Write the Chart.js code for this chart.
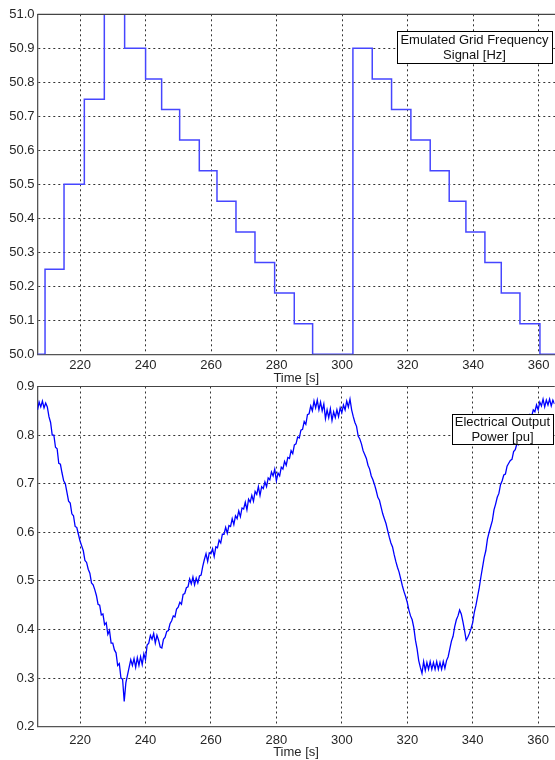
<!DOCTYPE html>
<html>
<head>
<meta charset="utf-8">
<script src="https://cdn.jsdelivr.net/npm/chart.js@4.4.1/dist/chart.umd.min.js"></script>
<style>
  html, body { margin: 0; padding: 0; background: #fff; overflow: hidden; }
  #wrap { position: relative; width: 555px; height: 760px; }
  #freqChart { position: absolute; left: 0; top: 0; }
  #powerChart { position: absolute; left: 0; top: 370px; }
</style>
</head>
<body>
<div id="wrap">
  <canvas id="freqChart" width="555" height="386"></canvas>
  <canvas id="powerChart" width="555" height="390"></canvas>
</div>
<script>
// Tick labels
const timeTicks = [220, 240, 260, 280, 300, 320, 340, 360];
const freqTicks = [50.0, 50.1, 50.2, 50.3, 50.4, 50.5, 50.6, 50.7, 50.8, 50.9, 51.0];
const powerTicks = [0.2, 0.3, 0.4, 0.5, 0.6, 0.7, 0.8, 0.9];

// Emulated grid frequency (step signal): time of each step and new level
const stepTimes = [207, 209.3, 215.1, 221.3, 227.4, 233.6, 240.0, 244.9, 250.4, 256.4, 261.8, 267.6, 273.4, 279.4, 285.4, 291.0,
                   303.3, 309.2, 315.1, 321.0, 326.9, 332.7, 337.8, 343.6, 348.6, 354.3, 360.4, 365];
const stepLevels = [50.0, 50.25, 50.5, 50.75, 51.0, 50.9, 50.81, 50.72, 50.63, 50.54, 50.45, 50.36, 50.27, 50.18, 50.09, 50.0,
                    50.9, 50.81, 50.72, 50.63, 50.54, 50.45, 50.36, 50.27, 50.18, 50.09, 50.0, 50.0];

// Electrical output power [pu], sampled every 0.5 s from 207 s
const powerStart = 207;
const powerStep = 0.5;
const powerValues = [
    0.852, 0.868, 0.858, 0.870, 0.856, 0.866, 0.858, 0.838, 0.826, 0.800, 0.800, 0.775, 0.772, 0.742, 0.740, 0.722, 0.706, 0.700, 0.682, 0.664,
    0.660, 0.638, 0.634, 0.612, 0.610, 0.596, 0.582, 0.572, 0.562, 0.542, 0.538, 0.524, 0.516, 0.496, 0.492, 0.482, 0.470, 0.452, 0.450, 0.430,
    0.432, 0.410, 0.414, 0.390, 0.398, 0.372, 0.372, 0.358, 0.352, 0.326, 0.330, 0.300, 0.298, 0.252, 0.290, 0.306, 0.322, 0.338, 0.326, 0.340,
    0.322, 0.342, 0.326, 0.344, 0.328, 0.350, 0.338, 0.368,
    0.372, 0.388, 0.380, 0.392, 0.372, 0.388, 0.378, 0.364, 0.362, 0.380, 0.384, 0.396, 0.398, 0.412, 0.418, 0.428, 0.426, 0.442, 0.446, 0.456,
    0.452, 0.472, 0.474, 0.486, 0.488, 0.504, 0.494, 0.508, 0.492, 0.506, 0.496, 0.510, 0.512, 0.530, 0.544, 0.556, 0.540, 0.558, 0.556, 0.566,
    0.550, 0.570, 0.568, 0.584, 0.578, 0.596, 0.596, 0.610, 0.598, 0.614, 0.612, 0.628, 0.616, 0.634, 0.628, 0.644, 0.632, 0.650, 0.648, 0.662,
    0.646, 0.668, 0.662, 0.676, 0.664, 0.684, 0.678, 0.694, 0.676, 0.694, 0.690, 0.704, 0.694, 0.712, 0.708, 0.724, 0.716, 0.730, 0.706, 0.722,
    0.716, 0.734, 0.730, 0.746, 0.738, 0.754, 0.752, 0.768, 0.762, 0.780, 0.782, 0.796, 0.794, 0.810, 0.812, 0.828, 0.822, 0.842, 0.844, 0.860,
    0.850, 0.870,
    0.856, 0.872, 0.852, 0.868, 0.850, 0.864, 0.834, 0.852, 0.836, 0.854, 0.830, 0.848, 0.836, 0.852, 0.838, 0.856, 0.846, 0.862, 0.852, 0.870,
    0.858, 0.874, 0.852, 0.838, 0.826, 0.818, 0.798, 0.792, 0.782, 0.768, 0.760, 0.752, 0.738, 0.730, 0.716, 0.708, 0.698, 0.686, 0.672, 0.666,
    0.652, 0.638, 0.628, 0.618, 0.604, 0.590, 0.578, 0.570, 0.554, 0.540, 0.528, 0.518, 0.504, 0.490, 0.478, 0.468, 0.456, 0.440, 0.428, 0.420,
    0.404, 0.378, 0.360, 0.336, 0.322, 0.310, 0.334, 0.316, 0.332, 0.318, 0.334, 0.318, 0.332, 0.318, 0.334, 0.318, 0.332, 0.318, 0.334, 0.320,
    0.336, 0.344, 0.360, 0.376, 0.386, 0.406, 0.420, 0.428, 0.440, 0.432, 0.416, 0.398, 0.378, 0.384, 0.392, 0.402, 0.414, 0.436, 0.450, 0.468,
    0.486, 0.508, 0.528, 0.548, 0.562, 0.586, 0.600, 0.612, 0.624, 0.646, 0.658, 0.672, 0.680, 0.698, 0.706, 0.718, 0.720, 0.736, 0.742, 0.748,
    0.750, 0.766, 0.770, 0.782, 0.780, 0.798, 0.800, 0.812, 0.810, 0.828, 0.830, 0.842, 0.838, 0.852, 0.848, 0.862, 0.852, 0.868, 0.860, 0.874,
    0.858, 0.872, 0.862, 0.874, 0.860, 0.872, 0.864
];

const FONT = 'Liberation Sans, Arial, sans-serif';
const TEXT = '#262626';

// frame line on top of the plot + text box (MATLAB style legend)
const framePlugin = {
    id: 'frame',
    afterDraw(chart, args, opts) {
        const { ctx, chartArea } = chart;
        ctx.save();
        ctx.strokeStyle = '#444';
        ctx.lineWidth = 1.2;
        ctx.beginPath();
        ctx.moveTo(chartArea.left, chartArea.top);
        ctx.lineTo(chartArea.right, chartArea.top);
        ctx.stroke();

        const b = opts.box;
        ctx.fillStyle = '#fff';
        ctx.fillRect(b.x, b.y, b.w, b.h);
        ctx.strokeStyle = '#000';
        ctx.lineWidth = 1;
        ctx.strokeRect(b.x + 0.5, b.y + 0.5, b.w, b.h);
        ctx.fillStyle = '#111';
        ctx.font = '13px ' + FONT;
        ctx.textAlign = 'center';
        ctx.textBaseline = 'middle';
        b.lines.forEach((t, i) => {
            ctx.fillText(t, b.x + b.w / 2, b.y + b.first + i * b.gap);
        });
        ctx.restore();
    }
};

function makeOptions(yMin, yMax, yTicks, xHeight, padTop, tickPad, box) {
    return {
        responsive: false,
        animation: false,
        layout: { padding: { top: padTop, right: 0, left: 0, bottom: 0 } },
        plugins: {
            legend: { display: false },
            tooltip: { enabled: false },
            frame: { box: box }
        },
        scales: {
            x: {
                type: 'linear',
                min: 207,
                max: 365,
                afterFit: s => { s.height = xHeight; },
                afterBuildTicks: s => { s.ticks = timeTicks.map(v => ({ value: v })); },
                grid: { color: '#333', lineWidth: 1, drawTicks: false },
                border: { display: true, color: '#555', width: 1.3, dash: [2, 3] },
                ticks: { color: TEXT, font: { family: FONT, size: 13 }, padding: tickPad, maxRotation: 0 },
                title: { display: true, text: 'Time [s]', color: TEXT, font: { family: FONT, size: 13 }, padding: { top: 0, bottom: 0 } }
            },
            y: {
                min: yMin,
                max: yMax,
                afterFit: s => { s.width = 37.5; },
                afterBuildTicks: s => { s.ticks = yTicks.map(v => ({ value: v })); },
                grid: { color: '#333', lineWidth: 1, drawTicks: false },
                border: { display: true, color: '#555', width: 1.3, dash: [2, 3] },
                ticks: { color: TEXT, font: { family: FONT, size: 13 }, padding: 3, callback: v => v.toFixed(1) }
            }
        }
    };
}

new Chart(document.getElementById('freqChart'), {
    type: 'line',
    data: {
        datasets: [{
            data: stepTimes.map((t, i) => ({ x: t, y: stepLevels[i] })),
            borderColor: '#4646ff',
            borderWidth: 1.5,
            pointRadius: 0,
            stepped: true,
            fill: false
        }]
    },
    options: makeOptions(50.0, 51.0, freqTicks, 31.7, 14.3, 3,
        { x: 397, y: 31, w: 155, h: 32, first: 9, gap: 15, lines: ['Emulated Grid Frequency', 'Signal [Hz]'] }),
    plugins: [framePlugin]
});

new Chart(document.getElementById('powerChart'), {
    type: 'line',
    data: {
        datasets: [{
            data: powerValues.map((v, i) => ({ x: powerStart + i * powerStep, y: v })),
            borderColor: '#0000ff',
            borderWidth: 1.3,
            pointRadius: 0,
            tension: 0,
            fill: false
        }]
    },
    options: makeOptions(0.2, 0.9, powerTicks, 33.3, 16.5, 6,
        { x: 452, y: 44, w: 101, h: 30, first: 8.5, gap: 14.5, lines: ['Electrical Output', 'Power [pu]'] }),
    plugins: [framePlugin]
});
</script>
</body>
</html>
